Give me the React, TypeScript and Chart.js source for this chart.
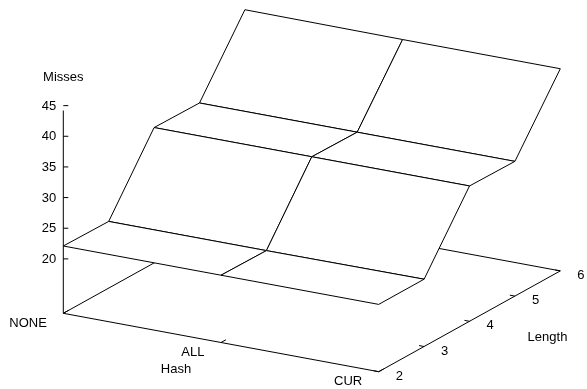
import React, { useEffect, useRef } from 'react';
import { Chart, registerables } from 'chart.js';

Chart.register(...registerables);

// ---- data ----
const hashCategories = ['NONE', 'ALL', 'CUR'];
const lengthValues = [2, 3, 4, 5, 6];
const missesNONE = [22.1, 22.0, 33.2, 33.1, 44.2];
const missesALL = [22.1, 22.0, 33.2, 33.1, 44.1];
const missesCUR = [22.1, 22.1, 33.2, 33.1, 44.1];
const zTickValues = [20, 25, 30, 35, 40, 45];
const lengthTickValues = [2, 3, 4, 5, 6];
const zTitle = 'Misses';
const hashTitle = 'Hash';
const lengthTitle = 'Length';

// ---- view / style ----
const W = 587;
const H = 389;
const ORIGIN_X = 63.3;
const ORIGIN_Y = 313.3;
const HASH_DX = 157.7;
const HASH_DY = 29.2;
const LEN_DX = 45.4;
const LEN_DY = -25.2;
const Z_PX = 6.13;
const TICSLEVEL = 0.49;
const HASH_TICK_LEN = 0.11; // in length units
const LEN_TICK_LEN = 0.032; // in hash units
const Z_TICK_PX = 5;
const FONT = "13px 'Liberation Sans', Arial, Helvetica, sans-serif";

type P = { x: number; y: number };

function App() {
  const ref = useRef<HTMLCanvasElement>(null);

  useEffect(() => {
    document.body.style.margin = '0';
    const canvas = ref.current;
    if (!canvas) return;

    const series = [missesNONE, missesALL, missesCUR];
    const all = series.flat();
    const zMin = Math.min(...all);
    const zMax = Math.max(...all);
    const zBase = zMin - TICSLEVEL * (zMax - zMin);
    const lMin = lengthValues[0];
    const lMax = lengthValues[lengthValues.length - 1];
    const hMax = hashCategories.length - 1;

    const proj = (h: number, l: number, z: number): P => ({
      x: ORIGIN_X + h * HASH_DX + (l - lMin) * LEN_DX,
      y: ORIGIN_Y + h * HASH_DY + (l - lMin) * LEN_DY - (z - zBase) * Z_PX,
    });

    const lineDs = (pts: P[], fillWhite = false) => ({
      data: pts,
      borderColor: '#000',
      borderWidth: 1,
      pointRadius: 0,
      pointHoverRadius: 0,
      fill: fillWhite ? 'shape' : false,
      backgroundColor: '#fff',
      tension: 0,
      clip: false,
      borderJoinStyle: 'miter',
      borderCapStyle: 'butt',
    });

    const seq: any[] = [];
    // back/left base edges (drawn first, hidden by surface)
    seq.push(lineDs([proj(0, lMin, zBase), proj(0, lMax, zBase)]));
    seq.push(lineDs([proj(0, lMax, zBase), proj(hMax, lMax, zBase)]));

    // surface quads, far to near
    const quads: { depth: number; pts: P[] }[] = [];
    for (let i = 0; i < hMax; i++) {
      for (let j = 0; j < lengthValues.length - 1; j++) {
        const l0 = lengthValues[j];
        const l1 = lengthValues[j + 1];
        const pts = [
          proj(i, l0, series[i][j]),
          proj(i + 1, l0, series[i + 1][j]),
          proj(i + 1, l1, series[i + 1][j + 1]),
          proj(i, l1, series[i][j + 1]),
          proj(i, l0, series[i][j]),
        ];
        const depth = proj(i + 0.5, (l0 + l1) / 2, zBase).y;
        quads.push({ depth, pts });
      }
    }
    quads.sort((a, b) => a.depth - b.depth);
    quads.forEach((q) => seq.push(lineDs(q.pts, true)));

    // front and right base edges
    seq.push(lineDs([proj(0, lMin, zBase), proj(hMax, lMin, zBase)]));
    seq.push(lineDs([proj(hMax, lMin, zBase), proj(hMax, lMax, zBase)]));

    // hash ticks
    hashCategories.forEach((_, i) => {
      seq.push(lineDs([proj(i, lMin, zBase), proj(i, lMin + HASH_TICK_LEN, zBase)]));
    });
    // length ticks
    lengthTickValues.forEach((l) => {
      seq.push(lineDs([proj(hMax, l, zBase), proj(hMax - LEN_TICK_LEN, l, zBase)]));
    });
    // z ticks
    zTickValues.forEach((z) => {
      const p = proj(0, lMin, z);
      seq.push(lineDs([p, { x: p.x + Z_TICK_PX, y: p.y }]));
    });
    // z vertical border
    seq.push(lineDs([proj(0, lMin, zBase), proj(0, lMin, zMax)]));

    const n = seq.length;
    seq.forEach((d, i) => {
      d.order = n - i;
    });

    const textPlugin = {
      id: 'texts3d',
      afterDraw(chart: any) {
        const ctx = chart.ctx;
        const sx = chart.scales.x;
        const sy = chart.scales.y;
        const txt = (s: string, p: P, dx: number, dy: number, align: CanvasTextAlign) => {
          ctx.fillText(s, sx.getPixelForValue(p.x) + dx, sy.getPixelForValue(p.y) + dy);
          void align;
        };
        ctx.save();
        ctx.font = FONT;
        ctx.fillStyle = '#000';
        ctx.textBaseline = 'middle';
        ctx.textAlign = 'right';
        zTickValues.forEach((z) => txt(String(z), proj(0, lMin, z), -7, 0.5, 'right'));
        hashCategories.forEach((c, i) => txt(c, proj(i, lMin, zBase), -16.5, 10, 'right'));
        ctx.textAlign = 'left';
        lengthTickValues.forEach((l) => txt(String(l), proj(hMax, l, zBase), 17, 4.5, 'left'));
        ctx.textAlign = 'center';
        txt(zTitle, proj(0, lMin, zMax), 0, -33, 'center');
        txt(hashTitle, proj(hMax / 2, lMin, zBase), -45, 27, 'center');
        txt(lengthTitle, proj(hMax, (lMin + lMax) / 2, zBase), 78, 15.7, 'center');
        ctx.restore();
      },
    };

    const chart = new Chart(canvas, {
      type: 'line',
      data: { datasets: seq },
      options: {
        animation: false,
        responsive: false,
        maintainAspectRatio: false,
        events: [],
        layout: { padding: 0 },
        plugins: {
          legend: { display: false },
          tooltip: { enabled: false },
        },
        scales: {
          x: { type: 'linear', min: 0, max: W, display: false },
          y: { type: 'linear', min: 0, max: H, reverse: true, display: false },
        },
      },
      plugins: [textPlugin],
    } as any);

    return () => chart.destroy();
  }, []);

  return (
    <div style={{ width: W, height: H, background: '#fff' }}>
      <canvas ref={ref} width={W} height={H} style={{ display: 'block', width: W, height: H }} />
    </div>
  );
}

export default App;
